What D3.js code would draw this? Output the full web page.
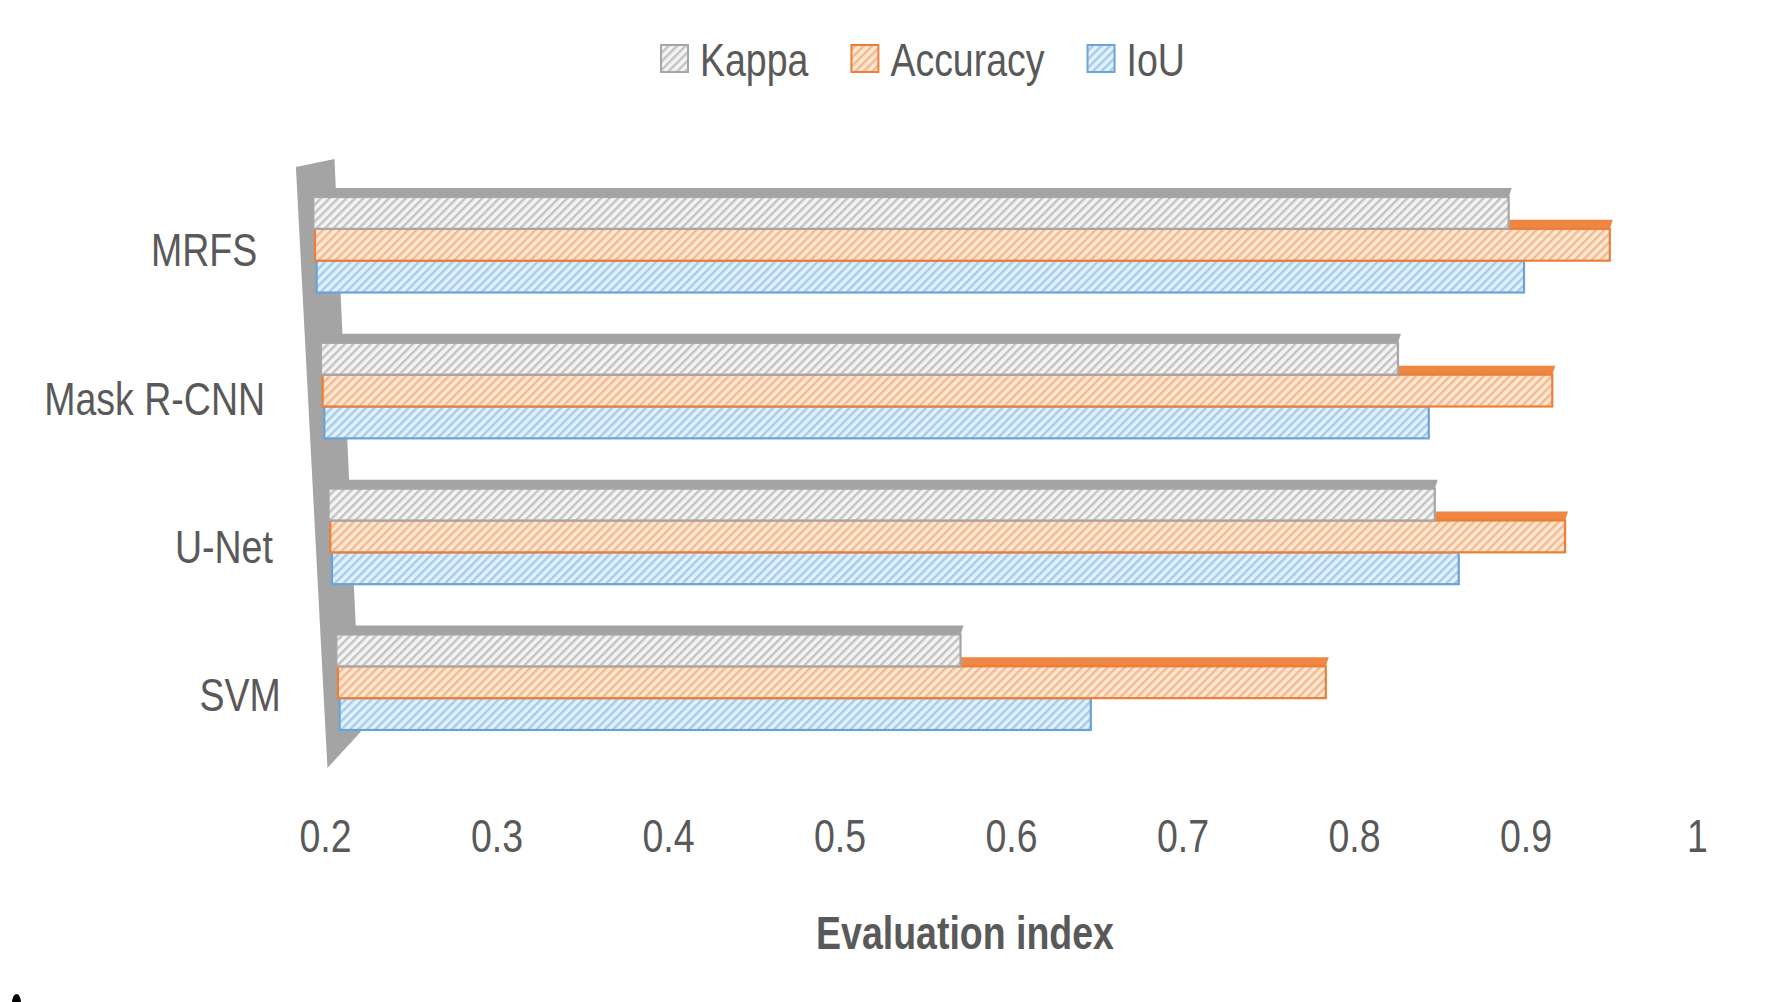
<!DOCTYPE html>
<html>
<head>
<meta charset="utf-8">
<script src="https://cdn.jsdelivr.net/npm/d3@7"></script>
<style>
  html, body { margin: 0; padding: 0; background: #ffffff; }
  svg { display: block; }
</style>
</head>
<body>
<svg id="chart" width="1770" height="1002"></svg>
<script>
// ---------------- data ----------------
const categories = ["MRFS", "Mask R-CNN", "U-Net", "SVM"];
const seriesNames = ["Kappa", "Accuracy", "IoU"];
const kappaValues = [0.897, 0.828, 0.845, 0.564];
const accuracyValues = [0.955, 0.917, 0.920, 0.776];
const iouValues = [0.904, 0.844, 0.857, 0.638];
const xTickValues = [0.2, 0.3, 0.4, 0.5, 0.6, 0.7, 0.8, 0.9, 1];
const xTickLabels = ["0.2", "0.3", "0.4", "0.5", "0.6", "0.7", "0.8", "0.9", "1"];
const axisTitle = "Evaluation index";

const seriesValues = { "Kappa": kappaValues, "Accuracy": accuracyValues, "IoU": iouValues };

// ---------------- styles ----------------
const styles = {
  "Kappa":    { bg: "#f4f4f4", stripe: "#c3c3c3", border: "#a6a6a6", top: "#a3a3a3" },
  "Accuracy": { bg: "#fee7d4", stripe: "#f5b88a", border: "#ec7f37", top: "#ee8743" },
  "IoU":      { bg: "#e3f1fc", stripe: "#a6cbeb", border: "#6aa3d8", top: "#5b9bd5" }
};
const textColor = "#595959";
const fontFamily = "'Liberation Sans', Arial, sans-serif";
const fontSize = 46;
const narrowX = 0.815; // horizontal condensation of the text

const svg = d3.select("#chart");

// patterns
const defs = svg.append("defs");
seriesNames.forEach((s, i) => {
  const p = defs.append("pattern")
    .attr("id", "pat" + i)
    .attr("patternUnits", "userSpaceOnUse")
    .attr("width", 6).attr("height", 6)
    .attr("patternTransform", "rotate(45)");
  p.append("rect").attr("width", 6).attr("height", 6).attr("fill", styles[s].bg);
  p.append("rect").attr("x", 0).attr("width", 2.4).attr("height", 6).attr("fill", styles[s].stripe);
});

// ---------------- scales ----------------
const xScale = d3.scaleLinear().domain([0.2, 1]).range([325, 1697]);
const yScale = d3.scaleBand().domain(categories).range([197, 730]).paddingInner(0.345).paddingOuter(0);
const sScale = d3.scaleBand().domain(seriesNames).range([0, yScale.bandwidth()]).paddingInner(0);

// perspective skew: horizontal shift as a function of vertical position
const shift = y => -10 + (y - 245) * 0.0525;
const topDepth = 9, topDx = 3;

// helper: condensed text placed at (x, y)
function narrowText(parent, x, y, str, anchor, weight) {
  const g = parent.append("g").attr("transform", `translate(${x},${y}) scale(${narrowX},1)`);
  const t = g.append("text")
    .attr("x", 0).attr("y", 0)
    .attr("dy", "0.36em")
    .attr("text-anchor", anchor)
    .attr("font-family", fontFamily)
    .attr("font-size", fontSize)
    .attr("font-weight", weight || "normal")
    .attr("fill", textColor)
    .text(str);
  return t;
}

// ---------------- side wall ----------------
const wallTop = yScale.range()[0] - 30;
const wallBottomL = yScale.range()[1] + 38;
const wallBottomR = yScale.range()[1] + 2;
const x0base = xScale(xScale.domain()[0]);
const wallPts = [
  [x0base - 15 + shift(wallTop), wallTop],
  [x0base + 24 + shift(wallTop - 8), wallTop - 8],
  [x0base + 20 + shift(wallBottomR), wallBottomR],
  [x0base - 15 + shift(wallBottomL), wallBottomL]
];
svg.append("polygon")
  .attr("points", wallPts.map(p => p.join(",")).join(" "))
  .attr("fill", "#a4a4a4");

// ---------------- bars ----------------
const barsG = svg.append("g");
categories.forEach((c, ci) => {
  const order = seriesNames.slice().reverse(); // draw bottom bar first
  order.forEach(s => {
    const si = seriesNames.indexOf(s);
    const v = seriesValues[s][ci];
    const y = yScale(c) + sScale(s);
    const h = sScale.bandwidth();
    const sh = shift(y + h / 2);
    const xa = xScale(xScale.domain()[0]) + sh;
    const xb = xScale(v) + sh;
    // top face
    barsG.append("polygon")
      .attr("points", [[xa, y], [xb, y], [xb + topDx, y - topDepth], [xa + topDx, y - topDepth]].map(p => p.join(",")).join(" "))
      .attr("fill", styles[s].top);
    // front face
    barsG.append("rect")
      .attr("x", xa).attr("y", y)
      .attr("width", xb - xa).attr("height", h)
      .attr("fill", "url(#pat" + si + ")")
      .attr("stroke", styles[s].border)
      .attr("stroke-width", 2.2);
  });
});

// ---------------- category labels ----------------
const catG = svg.append("g");
categories.forEach((d, i) => {
  const yc = yScale(d) + yScale.bandwidth() / 2 + 5 + i * 2.5;
  narrowText(catG, x0base - 58 + shift(yc), yc, d, "end");
});

// ---------------- x axis ----------------
const xAxis = d3.axisBottom(xScale)
  .tickValues(xTickValues)
  .tickFormat((d, i) => xTickLabels[i])
  .tickSize(0).tickPadding(0);
const axG = svg.append("g").attr("transform", "translate(0,819)").call(xAxis);
axG.select(".domain").remove();
axG.selectAll("text")
  .attr("font-family", fontFamily)
  .attr("font-size", fontSize)
  .attr("fill", textColor)
  .attr("transform", `scale(${narrowX},1)`);

narrowText(svg, (xScale.range()[0] + xScale.range()[1]) / 2 - 46, 932, axisTitle, "middle", "bold");

// ---------------- legend ----------------
const legendG = svg.append("g");
let lx = 661;
const ly = 59;
seriesNames.forEach((s, i) => {
  legendG.append("rect")
    .attr("x", lx).attr("y", ly - 14)
    .attr("width", 27).attr("height", 27)
    .attr("fill", "url(#pat" + i + ")")
    .attr("stroke", styles[s].border)
    .attr("stroke-width", 2);
  const t = narrowText(legendG, lx + 39, ly, s, "start");
  lx = lx + 39 + t.node().getComputedTextLength() * narrowX + 43;
});

// small dark fragment at the bottom-left edge of the original figure
svg.append("path")
  .attr("d", "M12,1002 Q13,994 16.5,994 Q20,994 21,1002 Z")
  .attr("fill", "#000");
</script>
</body>
</html>
